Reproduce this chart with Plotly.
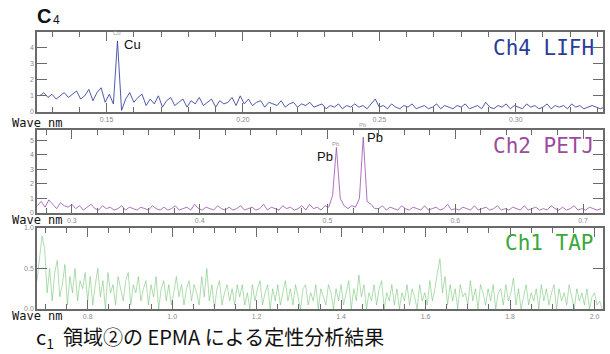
import plotly.graph_objects as go
from plotly.subplots import make_subplots

# ---- Ch4 LIFH spectrum (wavelength grid: start + step * index) ----
ch4_start, ch4_step = 0.1255, 0.0015
ch4_counts = [
    1.0, 1.2, 0.9, 1.1, 0.8, 1.0, 1.2, 0.9, 1.1, 1.3, 0.8, 1.0, 1.4, 0.7, 1.2, 1.5, 0.6, 1.1, 0.5,
    4.4,
    0.1, 0.8,
    1.2, 0.6, 0.9, 1.1, 0.4, 0.8, 0.5, 1.0, 0.3, 0.7, 0.9, 0.4, 0.6, 0.8, 0.3, 0.7, 0.5, 0.9, 0.4, 0.6,
    0.8, 0.3, 0.7, 0.5, 0.6, 0.9, 0.4, 1.0,
    0.5, 0.8, 0.4, 0.6, 0.7, 0.3, 0.6, 0.5, 0.4, 0.7, 0.3, 0.5, 0.6, 0.3, 0.5, 0.4, 0.6, 0.3, 0.4, 0.5,
    0.2, 0.4, 0.3, 0.5, 0.2, 0.4, 0.3, 0.5, 0.3, 0.4, 0.2, 0.5, 0.8,
    0.3, 0.4, 0.2, 0.5, 0.3, 0.2, 0.4, 0.3, 0.5, 0.2, 0.3, 0.4, 0.2, 0.3, 0.5, 0.2, 0.4, 0.3, 0.2, 0.4,
    0.3, 0.5, 0.2, 0.3, 0.4, 0.2, 0.6, 0.3, 0.2, 0.4, 0.3, 0.5, 0.2, 0.4, 0.3, 0.2, 0.5, 0.3, 0.4, 0.2,
    0.3, 0.5, 0.2, 0.4, 0.3, 0.4, 0.2, 0.5, 0.3, 0.4, 0.2, 0.3, 0.4, 0.3, 0.2, 0.3,
]

# ---- Ch2 PETJ spectrum ----
ch2_start, ch2_step = 0.273, 0.003
ch2_counts = [
    0.5, 0.8, 0.4, 0.9, 0.6, 0.3, 0.7, 0.5, 0.4, 0.6, 0.3, 0.5, 0.2, 0.4, 0.6, 0.3, 0.2, 0.5, 0.3, 0.4,
    0.2, 0.3, 0.5, 0.2, 0.4, 0.3,
    0.2, 0.4, 0.3, 0.2, 0.5, 0.3, 0.2, 0.4, 0.2, 0.3, 0.5, 0.2, 0.3, 0.4, 0.2, 0.6, 0.3, 0.2, 0.4, 0.3,
    0.2, 0.5, 0.3, 0.2, 0.4, 0.2, 0.3, 0.5, 0.2, 0.3, 0.4, 0.2, 0.3, 0.6, 0.2, 0.4, 0.3, 0.2, 0.5, 0.3,
    0.4, 0.2, 0.3, 0.5, 0.2, 0.6, 0.3, 0.4, 0.2, 0.5,
    0.4, 1.2, 4.5, 1.0, 0.5, 0.3, 0.5, 0.4, 1.0, 5.2, 0.8, 0.6, 0.3,
    0.3, 0.5, 0.2, 0.4, 0.3, 0.2, 0.5, 0.3, 0.2, 0.4, 0.3, 0.2, 0.5, 0.2, 0.3, 0.4, 0.2, 0.3, 0.6, 0.2,
    0.3, 0.2, 0.4, 0.3, 0.2, 0.5, 0.2, 0.3, 0.4, 0.2, 0.3, 0.5, 0.2, 0.3, 0.2, 0.4, 0.3, 0.2, 0.5, 0.2,
    0.3, 0.4, 0.2, 0.3, 0.2, 0.5, 0.3, 0.2, 0.4, 0.2, 0.3, 0.5, 0.2, 0.3, 0.2, 0.4, 0.3, 0.2, 0.3,
]

# ---- Ch1 TAP spectrum ----
ch1_start, ch1_step = 0.68, 0.006
ch1_counts = [
    0.35, 0.6, 0.9, 0.75, 0.2, 0.5, 0.1, 0.45, 0.6, 0.15, 0.3, 0.55, 0.05, 0.4, 0.2, 0.5, 0.1, 0.35, 0.25, 0.45,
    0.1, 0.4, 0.05, 0.3, 0.5, 0.15, 0.35, 0.0, 0.45, 0.2, 0.3, 0.05, 0.4, 0.25, 0.1, 0.35, 0.45, 0.05, 0.3, 0.2,
    0.4, 0.1, 0.25, 0.35, 0.05, 0.3, 0.15, 0.4, 0.0, 0.25, 0.35, 0.1, 0.3, 0.05, 0.2, 0.4, 0.15, 0.3, 0.05, 0.25,
    0.35, 0.1, 0.3, 0.2, 0.05, 0.4, 0.15, 0.5, 0.1, 0.3, 0.0, 0.25, 0.35, 0.05, 0.2, 0.3, 0.1, 0.25, 0.05, 0.3,
    0.15, 0.3, 0.05, 0.2, 0.0, 0.3, 0.1, 0.25, 0.35, 0.05, 0.2, 0.3, 0.0, 0.25, 0.1, 0.3, 0.05, 0.2, 0.35, 0.1,
    0.25, 0.05, 0.3, 0.15, 0.0, 0.25, 0.3, 0.05, 0.2, 0.1, 0.3, 0.0, 0.25, 0.15, 0.05, 0.3, 0.2, 0.0, 0.25, 0.1,
    0.3, 0.05, 0.2, 0.35, 0.0, 0.25, 0.1, 0.42, 0.15, 0.3, 0.0, 0.2, 0.1, 0.3, 0.05, 0.25, 0.35, 0.0, 0.2, 0.1,
    0.3, 0.05, 0.25, 0.0, 0.2, 0.1, 0.3, 0.05, 0.25, 0.15, 0.0, 0.3, 0.1, 0.2, 0.05, 0.35, 0.1, 0.25, 0.45, 0.62,
    0.2, 0.4, 0.05, 0.3, 0.1, 0.25, 0.0, 0.3, 0.15, 0.2, 0.05, 0.35, 0.1, 0.25, 0.0, 0.3, 0.2, 0.05, 0.25, 0.1,
    0.3, 0.0, 0.2, 0.25, 0.05, 0.3, 0.1, 0.2, 0.38, 0.05, 0.25, 0.0, 0.15, 0.3, 0.05, 0.2, 0.1, 0.25, 0.0, 0.3,
    0.1, 0.25, 0.05, 0.2, 0.3, 0.0, 0.25, 0.1, 0.2, 0.05, 0.3, 0.15, 0.0, 0.25, 0.1, 0.2, 0.05, 0.25, 0.0, 0.15,
    0.2, 0.05, 0.1, 0.0,
]

channel_names = ["Ch4 LIFH", "Ch2 PETJ", "Ch1 TAP"]
x_ranges = [(0.1245, 0.332), (0.2727, 0.7156), (0.68, 2.02)]
y_ranges = [(0, 4.95), (0, 5.7), (0, 1.0)]
x_major = [0.05, 0.1, 0.2]
x_minor = [0.01, 0.02, 0.05]
x_tick0 = [0.15, 0.3, 0.8]
x_fmt = [".2f", ".1f", ".1f"]
y_major = [1, 1, 0.5]
y_fmt = ["d", "d", ".1f"]
line_colors = ["rgba(50,62,160,0.85)", "rgba(160,90,180,0.85)", "rgba(100,190,100,0.65)"]
line_widths = [1, 1, 0.8]
label_colors = ["#2b3c98", "#9c4c9c", "#3aa83a"]

# element name, x, y, panel index, side of the text relative to x, peak wavelength
peak_labels = [("Cu", 0.1555, 4.2, 0, "left", 0.154),
               ("Pb", 0.5055, 3.9, 1, "right", 0.507),
               ("Pb", 0.5295, 5.2, 1, "left", 0.528)]

# pixel geometry of the page
W, H = 610, 354
ML, MR, MT, MB = 37, 5, 32, 45
PW, PH = W - ML - MR, H - MT - MB


def px_x(px):
    return (px - ML) / PW


def px_y(py):
    return (H - MB - py) / PH


domains = [(px_y(112), px_y(32)), (px_y(213), px_y(130)), (px_y(309), px_y(228))]

fig = make_subplots(rows=3, cols=1)

spectra = [(ch4_start, ch4_step, ch4_counts), (ch2_start, ch2_step, ch2_counts),
           (ch1_start, ch1_step, ch1_counts)]

for k, (start, step, counts) in enumerate(spectra):
    waves = [start + step * i for i in range(len(counts))]
    fig.add_trace(go.Scatter(x=waves, y=counts, mode="lines",
                             line=dict(color=line_colors[k], width=line_widths[k]),
                             hoverinfo="skip"), row=k + 1, col=1)

axis_line = "#6a6a6a"
tick_font = dict(family="Liberation Sans, Arial", size=7, color="#8a8a8a")

for k in range(3):
    xa = "xaxis" if k == 0 else f"xaxis{k + 1}"
    ya = "yaxis" if k == 0 else f"yaxis{k + 1}"
    fig.layout[xa].update(
        range=list(x_ranges[k]), domain=[0, 1], tick0=x_tick0[k], dtick=x_major[k],
        tickformat=x_fmt[k], ticks="inside", ticklen=9, tickwidth=1.2, tickcolor=axis_line,
        minor=dict(dtick=x_minor[k], ticks="inside", ticklen=5, tickwidth=1, tickcolor=axis_line),
        showline=True, linecolor=axis_line, linewidth=1.5, mirror="allticks",
        showgrid=False, zeroline=False, tickfont=tick_font, ticklabelstandoff=0,
    )
    fig.layout[ya].update(
        range=list(y_ranges[k]), domain=list(domains[k]), dtick=y_major[k], tick0=0,
        tickformat=y_fmt[k], ticks="inside", ticklen=10, tickwidth=1.2, tickcolor=axis_line,
        showline=True, linecolor=axis_line, linewidth=1.5, mirror="allticks",
        showgrid=False, zeroline=False, tickfont=tick_font, ticklabelstandoff=0,
    )

annotations = []
# channel labels
label_y = [47.5, 146, 242.5]
for k in range(3):
    annotations.append(dict(
        text=channel_names[k], xref="paper", yref="paper", x=px_x(598), y=px_y(label_y[k]),
        xanchor="right", yanchor="middle", showarrow=False,
        font=dict(family="DejaVu Sans Mono", size=21, color=label_colors[k])))

# "Wave nm" axis captions
wave_y = [123, 219.5, 316]
for k in range(3):
    annotations.append(dict(
        text="Wave nm", xref="paper", yref="paper", x=px_x(10), y=px_y(wave_y[k]),
        xanchor="left", yanchor="middle", showarrow=False,
        font=dict(family="DejaVu Sans Mono", size=12, color="#111")))

# element labels at the peaks
for text, xv, yv, k, side, peak in peak_labels:
    xr = "x" if k == 0 else f"x{k + 1}"
    yr = "y" if k == 0 else f"y{k + 1}"
    annotations.append(dict(
        text=text, xref=xr, yref=yr, x=xv, y=yv, xanchor=side, yanchor="middle",
        showarrow=False, font=dict(family="Liberation Sans Narrow, Liberation Sans", size=13,
                                   color="#111")))
    # small marker text right above the peak
    annotations.append(dict(
        text=text, xref=xr, yref=yr, x=peak,
        y=yv + (0.35 if k == 0 else 0.5), xanchor="center", yanchor="bottom",
        showarrow=False, font=dict(family="Liberation Sans", size=6, color="#9a9a9a")))

# panel title
annotations.append(dict(text="<b>C</b>", xref="paper", yref="paper", x=px_x(35), y=px_y(29),
                        xanchor="left", yanchor="bottom", showarrow=False,
                        font=dict(family="Liberation Sans", size=20, color="#111")))
annotations.append(dict(text="4", xref="paper", yref="paper", x=px_x(51), y=px_y(29),
                        xanchor="left", yanchor="bottom", showarrow=False,
                        font=dict(family="Liberation Sans", size=12, color="#111")))

# caption
annotations.append(dict(text="c<sub>1</sub>  領域②の EPMA による定性分析結果",
                        xref="paper", yref="paper", x=px_x(34), y=px_y(337),
                        xanchor="left", yanchor="middle", showarrow=False,
                        font=dict(family="Noto Sans CJK JP", size=20, color="#111")))

fig.update_layout(
    width=W, height=H, margin=dict(l=ML, r=MR, t=MT, b=MB),
    paper_bgcolor="white", plot_bgcolor="white", showlegend=False,
    annotations=annotations,
)

fig.write_html("out.html")
